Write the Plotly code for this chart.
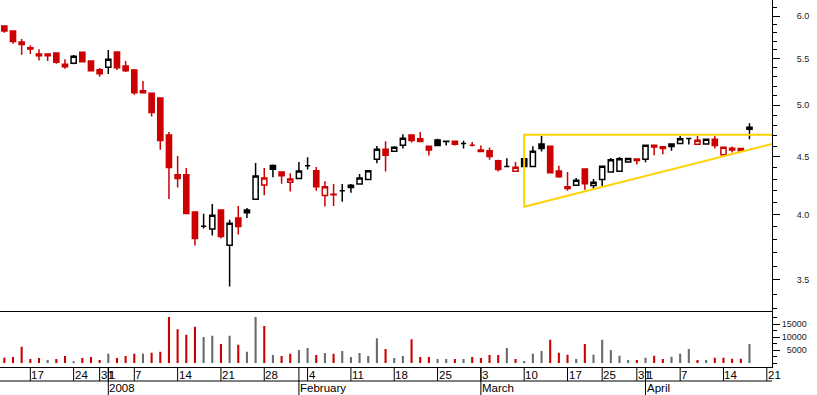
import math
import pandas as pd
import plotly.graph_objects as go

# ---------------- data ----------------
holidays = ["2007-12-25", "2007-12-26", "2008-01-01", "2008-03-21", "2008-03-24"]
calendar = [d for d in pd.bdate_range("2007-12-12", "2008-04-22")
            if d.strftime("%Y-%m-%d") not in holidays]
day_key = [d.strftime("%Y-%m-%d") for d in calendar]

opens = [5.88, 5.82, 5.69, 5.625, 5.553, 5.553, 5.564, 5.411, 5.448, 5.572,
         5.473, 5.378, 5.404, 5.575, 5.419, 5.375, 5.152, 5.126, 5.076, 4.707,
         4.338, 4.338, 4.022, 3.906, 3.883, 4.038, 3.758, 3.973, 4.038, 4.128,
         4.250, 4.421, 4.364, 4.273, 4.305, 4.42, 4.374, 4.158, 4.17, 4.20,
         4.247, 4.258, 4.298, 4.479, 4.571, 4.553, 4.609, 4.707, 4.669, 4.60,
         4.659, 4.645, 4.646, 4.624, 4.609, 4.565, 4.556, 4.464, 4.412, 4.370,
         4.484, 4.412, 4.62, 4.60, 4.373, 4.235, 4.247, 4.391, 4.244, 4.298,
         4.364, 4.37, 4.454, 4.481, 4.479, 4.609, 4.594, 4.597, 4.624, 4.672,
         4.618, 4.62, 4.666, 4.519, 4.580, 4.577, 4.762]
highs = [5.88, 5.82, 5.725, 5.652, 5.606, 5.553, 5.564, 5.493, 5.54, 5.572,
         5.473, 5.396, 5.598, 5.575, 5.473, 5.385, 5.255, 5.126, 5.076, 4.736,
         4.509, 4.400, 4.022, 4.006, 4.088, 4.038, 3.957, 4.071, 4.054, 4.445,
         4.400, 4.43, 4.364, 4.353, 4.454, 4.497, 4.409, 4.282, 4.257, 4.257,
         4.257, 4.346, 4.374, 4.602, 4.646, 4.60, 4.713, 4.707, 4.736, 4.60,
         4.669, 4.647, 4.65, 4.65, 4.64, 4.606, 4.587, 4.473, 4.488, 4.454,
         4.484, 4.60, 4.697, 4.60, 4.419, 4.364, 4.311, 4.391, 4.302, 4.415,
         4.49, 4.50, 4.488, 4.481, 4.609, 4.609, 4.594, 4.62, 4.697, 4.672,
         4.697, 4.666, 4.697, 4.597, 4.597, 4.577, 4.821]
lows = [5.80, 5.671, 5.545, 5.553, 5.478, 5.475, 5.444, 5.389, 5.438, 5.466,
        5.367, 5.301, 5.331, 5.375, 5.353, 5.110, 5.131, 4.886, 4.567, 4.130,
        4.227, 4.008, 3.755, 3.887, 3.832, 3.809, 3.453, 3.840, 3.973, 4.128,
        4.162, 4.317, 4.261, 4.192, 4.305, 4.385, 4.200, 4.066, 4.07, 4.107,
        4.183, 4.258, 4.298, 4.443, 4.367, 4.553, 4.577, 4.634, 4.644, 4.512,
        4.60, 4.606, 4.606, 4.577, 4.597, 4.549, 4.473, 4.367, 4.405, 4.370,
        4.41, 4.412, 4.549, 4.357, 4.313, 4.20, 4.247, 4.209, 4.212, 4.24,
        4.364, 4.37, 4.454, 4.43, 4.452, 4.516, 4.525, 4.558, 4.624, 4.615,
        4.618, 4.62, 4.577, 4.519, 4.54, 4.556, 4.666]
closes = [5.82, 5.695, 5.66, 5.61, 5.534, 5.534, 5.459, 5.438, 5.527, 5.466,
          5.367, 5.334, 5.493, 5.40, 5.367, 5.131, 5.131, 4.926, 4.653, 4.403,
          4.305, 4.008, 3.809, 3.906, 3.995, 3.824, 3.930, 3.903, 4.016, 4.329,
          4.311, 4.388, 4.331, 4.302, 4.373, 4.42, 4.235, 4.235, 4.165, 4.20,
          4.227, 4.311, 4.374, 4.571, 4.516, 4.590, 4.675, 4.653, 4.644, 4.565,
          4.606, 4.647, 4.618, 4.624, 4.609, 4.549, 4.503, 4.385, 4.412, 4.406,
          4.412, 4.553, 4.577, 4.357, 4.322, 4.218, 4.290, 4.261, 4.273, 4.415,
          4.473, 4.484, 4.486, 4.466, 4.609, 4.591, 4.577, 4.62, 4.671, 4.672,
          4.656, 4.666, 4.606, 4.590, 4.565, 4.556, 4.781]
volumes = [2050, 2300, 6300, 1540, 1920, 1150, 1540, 2700, 500, 1920,
           2300, 1150, 3600, 1920, 2700, 3600, 3600, 4000, 4350, 17800,
           13100, 10900, 14000, 10100, 10500, 7400, 10500, 7050, 4350, 17800,
           14350, 3080, 2700, 3600, 5000, 5770, 3080, 3850, 3600, 4600,
           2300, 3850, 2700, 9600, 5380, 1920, 2700, 9230, 2300, 2300,
           1540, 1540, 1540, 1540, 2300, 1920, 3080, 3080, 5770, 1540,
           770, 3600, 4600, 8970, 4000, 3200, 1540, 7400, 3200, 8970,
           5000, 2820, 1150, 1150, 2050, 2820, 1540, 2440, 3600, 5380,
           1150, 1150, 2050, 2050, 1650, 1650, 7400]

price_ticks = [3.5, 4.0, 4.5, 5.0, 5.5, 6.0]
price_tick_labels = ["3.5", "4.0", "4.5", "5.0", "5.5", "6.0"]
price_minor = [3.3, 3.4, 3.6, 3.7, 3.8, 3.9, 4.1, 4.2, 4.3, 4.4, 4.6, 4.7, 4.8,
               4.9, 5.1, 5.2, 5.3, 5.4, 5.6, 5.7, 5.8, 5.9, 6.1]
vol_ticks = [5000, 10000, 15000]
vol_tick_labels = ["5000", "10000", "15000"]
vol_minor = [0, 2500, 7500, 12500, 17500]

day_tick_dates = ["2007-12-17", "2007-12-24", "2007-12-31", "2008-01-02", "2008-01-07",
                  "2008-01-14", "2008-01-21", "2008-01-28", "2008-02-04", "2008-02-11",
                  "2008-02-18", "2008-02-25", "2008-03-03", "2008-03-10", "2008-03-17",
                  "2008-03-25", "2008-03-31", "2008-04-01", "2008-04-07", "2008-04-14",
                  "2008-04-21"]
day_tick_labels = ["17", "24", "31", "1", "7", "14", "21", "28", "4", "11", "18", "25",
                   "3", "10", "17", "25", "31", "1", "7", "14", "21"]
month_dates = ["2008-01-02", "2008-02-01", "2008-03-03", "2008-04-01"]
month_labels = ["2008", "February", "March", "April"]

# triangle drawn on the chart
tri_start = "2008-03-10"
tri_top = 4.709
tri_low = 4.065
tri_right = 4.621

# ---------------- styling ----------------
RED = "#CC0000"
BLACK = "#000000"
VGRAY = "#6A6A6A"
YELLOW = "#FFD200"
FONT = "Liberation Sans"
FSP = "\u2007"  # figure space, used to right-align / indent the axis labels

n = len(closes)
xs = list(range(n))
x_lo, x_hi = -0.5, 88.6

prev = [None] + closes[:-1]
is_red = [(c < o) if p is None else (c <= p) for o, c, p in zip(opens, closes, prev)]
vol_red = [(c < o) if p is None else (c < p) for o, c, p in zip(opens, closes, prev)]


def subset(flag):
    idx = [i for i in range(n) if flag[i]]
    return (idx, [opens[i] for i in idx], [highs[i] for i in idx],
            [lows[i] for i in idx], [closes[i] for i in idx])


fig = go.Figure()
for flag, col in ((is_red, RED), ([not f for f in is_red], BLACK)):
    ix, o, h, l, c = subset(flag)
    fig.add_trace(go.Candlestick(
        x=ix, open=o, high=h, low=l, close=c,
        increasing=dict(line=dict(color=col, width=1.5), fillcolor="white"),
        decreasing=dict(line=dict(color=col, width=1.5), fillcolor=col),
        whiskerwidth=0, showlegend=False, hoverinfo="skip",
        xaxis="x", yaxis="y"))

fig.add_trace(go.Bar(
    x=xs, y=volumes, width=0.24,
    marker=dict(color=[RED if r else VGRAY for r in vol_red], line=dict(width=0)),
    showlegend=False, hoverinfo="skip", xaxis="x", yaxis="y2"))

tx = day_key.index(tri_start)
fig.add_trace(go.Scatter(
    x=[x_hi, tx, tx, x_hi], y=[tri_top, tri_top, tri_low, tri_right],
    mode="lines", line=dict(color=YELLOW, width=2),
    showlegend=False, hoverinfo="skip", xaxis="x", yaxis="y"))

H_PLOT = 367.0
shapes = []
annotations = []
row1 = -14 / H_PLOT
row2 = -28 / H_PLOT
for d, lab in zip(day_tick_dates, day_tick_labels):
    xi = day_key.index(d)
    shapes.append(dict(type="line", xref="x", yref="paper", x0=xi, x1=xi,
                       y0=0, y1=row1, line=dict(color="black", width=1)))
    annotations.append(dict(xref="x", yref="paper", x=xi, y=-7.5 / H_PLOT,
                            xanchor="left", yanchor="middle", text=lab,
                            showarrow=False, xshift=-1,
                            font=dict(family=FONT, size=11.5, color="black")))
for d, lab in zip(month_dates, month_labels):
    xi = day_key.index(d)
    shapes.append(dict(type="line", xref="x", yref="paper", x0=xi, x1=xi,
                       y0=0, y1=row2, line=dict(color="black", width=1)))
    annotations.append(dict(xref="x", yref="paper", x=xi, y=-21.5 / H_PLOT,
                            xanchor="left", yanchor="middle", text=lab,
                            showarrow=False, xshift=-1,
                            font=dict(family=FONT, size=11.5, color="black")))
shapes.append(dict(type="line", xref="paper", yref="paper", x0=0, x1=1,
                   y0=row1, y1=row1, line=dict(color="black", width=1)))

fig.update_layout(
    width=817, height=395,
    margin=dict(l=0, r=45, t=0, b=28, pad=0, autoexpand=False),
    paper_bgcolor="white", plot_bgcolor="white",
    showlegend=False, hovermode=False,
    boxmode="overlay", boxgap=0.3, boxgroupgap=0.15,
    font=dict(family=FONT, color="black"),
    xaxis=dict(range=[x_lo, x_hi], domain=[0, 1], anchor="y2", automargin=False,
               showgrid=False, zeroline=False, showticklabels=False, ticks="",
               showline=True, linecolor="black", linewidth=1, mirror=True,
               rangeslider=dict(visible=False), fixedrange=True),
    yaxis=dict(type="log", domain=[56 / H_PLOT, 1], automargin=False,
               range=[math.log10(3.285), math.log10(6.2)],
               side="right", anchor="x", showgrid=False, zeroline=False,
               showline=True, linecolor="black", linewidth=1,
               ticks="outside", ticklen=7, tickcolor="black", tickwidth=1,
               tickmode="array", tickvals=price_ticks,
               ticktext=[FSP * 3 + t for t in price_tick_labels],
               minor=dict(tickmode="array", tickvals=price_minor, ticks="outside",
                          ticklen=4, tickcolor="black", tickwidth=1, showgrid=False),
               tickfont=dict(family=FONT, size=9, color="#222"), fixedrange=True),
    yaxis2=dict(domain=[0, 54.7 / H_PLOT], range=[-1540, 19610], automargin=False,
                side="right", anchor="x", showgrid=False, zeroline=False,
                showline=True, linecolor="black", linewidth=1,
                ticks="outside", ticklen=7, tickcolor="black", tickwidth=1,
                tickmode="array", tickvals=vol_ticks,
                ticktext=[t.rjust(5, FSP) for t in vol_tick_labels],
                minor=dict(tickmode="array", tickvals=vol_minor, ticks="outside",
                           ticklen=4, tickcolor="black", tickwidth=1, showgrid=False),
                tickfont=dict(family=FONT, size=9, color="#222"), fixedrange=True),
    shapes=shapes,
    annotations=annotations,
)

fig.write_html("out.html", config={"displayModeBar": False},
               post_script="document.body.style.margin='0';document.body.style.padding='0';")
